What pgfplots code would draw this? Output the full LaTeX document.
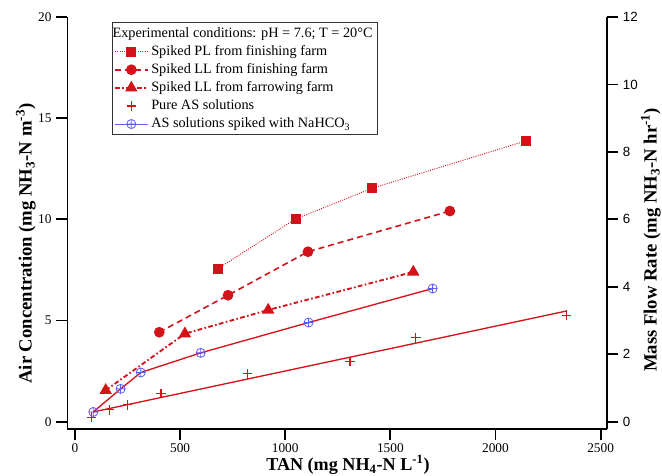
\documentclass[border=0pt]{standalone}
\usepackage{fontspec}
\setmainfont{Liberation Serif}
\setsansfont{Liberation Sans}
\usepackage{pgfplots}
\pgfplotsset{compat=1.18}

\definecolor{datred}{RGB}{212,18,26}
\definecolor{datblue}{RGB}{95,95,235}

\pgfplotsset{
  frame/.style={
    scale only axis,
    width=404.6pt, height=308.9pt,
    at={(0,0)}, anchor=south west,
    xmin=-35.7, xmax=2530,
    x axis line style={-}, y axis line style={-},
    axis line style={line width=1.4pt},
    tick align=outside,
    major tick length=8.5pt,
    tick style={line width=1.4pt, black},
    /pgf/number format/assume math mode=true,
    /pgf/number format/1000 sep={},
    label style={font=\bfseries\fontsize{14}{16}\selectfont},
  },
}

\begin{document}
\begin{tikzpicture}
\begin{axis}[
  frame,
  ymin=-0.36, ymax=20,
  axis x line*=bottom, axis y line*=left,
  xtick={0,500,...,2500},
  ytick={0,5,...,20},
  tick label style={font=\fontsize{10}{12}\selectfont},
  xticklabel style={yshift=1pt},
  xlabel={TAN (mg NH\textsubscript{4}-N L\textsuperscript{-1})},
  ylabel={Air Concentration (mg NH\textsubscript{3}-N m\textsuperscript{-3})},
  xlabel style={at={(axis description cs:0.52,-0.088)}, anchor=center,
    font=\bfseries\fontsize{13.6}{15}\selectfont},
  ylabel style={at={(axis description cs:-0.077,0.45)}, anchor=center},
  legend cell align=left,
  legend image code/.code={\draw[mark repeat=2,mark phase=2,#1] plot coordinates {(0cm,0cm) (0.43cm,0cm) (0.86cm,0cm)};},
  legend style={at={(0.082,0.987)}, anchor=north west,
    draw=black!80, line width=0.6pt, inner sep=1.5pt,
    font=\fontsize{10.7}{12}\selectfont, row sep=0.6pt},
]
\addlegendimage{empty legend}
\addlegendentry{\hspace*{-29pt}Experimental conditions: pH = 7.6; T = 20°C}

\addplot[datred, densely dotted, line width=0.7pt, mark=square*, mark size=3.4pt,
  mark options={solid}] coordinates {
  (678,7.55) (1049,10.02) (1414,11.54) (2145,13.88)
};
\addlegendentry{Spiked PL from finishing farm}

\addplot[datred, dash pattern=on 4.5pt off 3pt, line width=1.2pt, mark=*, mark size=3.4pt,
  mark options={solid}] coordinates {
  (401,4.42) (728,6.25) (1108,8.40) (1783,10.41)
};
\addlegendentry{Spiked LL from finishing farm}

\addplot[datred, dash pattern=on 3.5pt off 1.8pt on 1.2pt off 1.8pt, line width=1.4pt,
  mark=triangle*, mark size=4pt, mark options={solid}] coordinates {
  (146,1.55) (523,4.35) (919,5.52) (1609,7.40)
};
\addlegendentry{Spiked LL from farrowing farm}

\addplot[datred, only marks, mark=+, mark size=3.6pt,
  mark options={datred, line width=0.8pt}] coordinates {
  (79,0.22) (163,0.58) (249,0.83) (409,1.40) (821,2.36) (1308,2.97) (1621,4.15) (2338,5.27)
};
\addlegendentry{Pure AS solutions}

% fitted lines through the AS data
\addplot[datred, line width=1pt, forget plot] coordinates {
  (87,0.48) (2338,5.47)
};
\addplot[datred, line width=1pt, forget plot] coordinates {
  (87,0.48) (217,1.62) (313,2.43) (598,3.40) (1111,4.90) (1701,6.58)
};

\addplot[datblue, only marks, mark=oplus, mark size=3.4pt,
  mark options={datblue, line width=0.6pt}, forget plot] coordinates {
  (87,0.48) (217,1.62) (313,2.43) (598,3.40) (1111,4.90) (1701,6.58)
};
\addlegendimage{datblue, line width=0.8pt, mark=oplus, mark size=3.4pt, mark options={line width=0.6pt}}
\addlegendentry{AS solutions spiked with NaHCO\textsubscript{3}}
\end{axis}

\begin{axis}[
  frame,
  ymin=-0.216, ymax=12,
  axis x line=none, axis y line*=right,
  ytick={0,2,...,12},
  yticklabel style={font=\fontsize{10}{12}\sffamily},
  ylabel={Mass Flow Rate (mg NH\textsubscript{3}-N hr\textsuperscript{-1})},
  ylabel style={at={(axis description cs:1.0816,0.459)}, anchor=center},
]
\end{axis}
\pgfresetboundingbox
\path[use as bounding box] (-50.6pt,-35.25pt) rectangle (445.9pt,321.7pt);
\end{tikzpicture}
\end{document}
